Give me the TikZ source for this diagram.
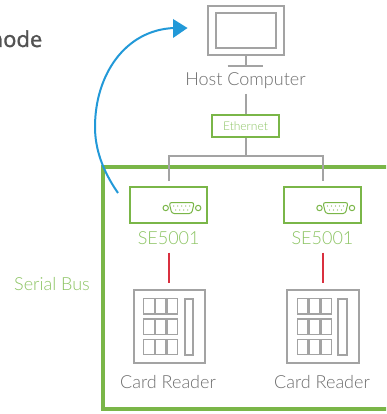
\documentclass[tikz,border=0pt]{standalone}
\usepackage{fontspec}
\setmainfont{Lato Light}
\newfontfamily\headfont{Open Sans}[FakeBold=1.2]
\definecolor{lgreen}{HTML}{7AB648}
\definecolor{tgreen}{HTML}{8CC463}
\definecolor{dgray}{HTML}{A3A3A3}
\definecolor{tgray}{HTML}{6E6E6E}
\definecolor{arcblue}{HTML}{2299D8}
\definecolor{busred}{HTML}{D9303F}
\tikzset{
  greenbox/.style={draw=lgreen,line width=2pt,inner sep=0pt,minimum width=#1},
  readerbox/.style={draw=dgray,line width=2pt,inner sep=0pt,minimum width=71.5pt,minimum height=73pt},
  keybox/.style={draw=dgray,line width=1.3pt,inner sep=0pt,minimum width=10.5pt,minimum height=15.5pt},
  gline/.style={draw=dgray,line width=2pt},
  rline/.style={draw=busred,line width=2pt},
  gtext/.style={text=tgreen,font=\fontsize{18}{20}\selectfont,inner sep=0pt},
  ctext/.style={text=tgray,font=\fontsize{18}{20}\selectfont,inner sep=0pt},
  port/.style={draw=lgreen,line width=1pt},
}
\newcommand{\serialport}[2]{%
  \draw[port] (#1-16,#2) circle (2.7);
  \draw[port] (#1+16.5,#2) circle (2.7);
  \draw[port,rounded corners=2.5pt] (#1-12.5,#2-5.5) -- (#1+12.5,#2-5.5) -- (#1+10,#2+5.5) -- (#1-10,#2+5.5) -- cycle;
  \foreach \dx in {-8,-4,0,4,8} \fill[lgreen] (#1+\dx,#2-2) circle (0.55);
  \foreach \dx in {-6,-2,2,6} \fill[lgreen] (#1+\dx,#2+2) circle (0.55);
}
\newcommand{\readerkeys}[3]{%
  \foreach \r in {0,1,2} \foreach \c in {0,1,2}
    \node[keybox] (#3k\r\c) at (#1-20.3+\c*11.7,#2-20.5+\r*20.4) {};
  \node[draw=dgray,line width=2pt,inner sep=0pt,minimum width=8.5pt,minimum height=56pt] (#3slot) at (#1+19.5,#2) {};
}
\begin{document}
\begin{tikzpicture}[x=1pt,y=-1pt]
\useasboundingbox (0,0) rectangle (386,414);
\clip (0,0) rectangle (386,414);
\fill[white] (0,0) rectangle (386,414);
% title fragment cropped by the left edge
\node[anchor=base east,inner sep=0pt,text=black!68,font=\headfont\fontsize{22}{26}\selectfont] (title) at (42.5,47) {mode};
% serial bus frame, running past the right edge
\node[draw=lgreen,line width=4pt,inner sep=0pt,minimum width=297pt,minimum height=242pt] (frame) at (251.5,288) {};
% host
\node[draw=dgray,line width=2pt,inner sep=0pt,minimum width=76pt,minimum height=49pt] (screen) at (245.5,30.5) {};
\node[draw=dgray,line width=2pt,inner sep=0pt,minimum width=60pt,minimum height=34.5pt] (inner) at (245.5,30.7) {};
\coordinate (base) at (245.5,65.7);
\draw[gline] (screen.south) -- (base);
\draw[gline] (227.7,65.7) -- (263.3,65.7);
\node[ctext] (host) at (245.5,81) {Host Computer};
\node[greenbox=66.5pt,minimum height=22.5pt,text=tgreen,font=\fontsize{12}{14}\selectfont] (eth) at (245.5,126.2) {Ethernet};
\coordinate (hostb) at (245.5,94);
\draw[gline] (hostb) -- (eth.north);
% SE units
\node[greenbox=77.5pt,minimum height=36pt] (se1) at (168.7,204.6) {};
\node[greenbox=77pt,minimum height=36pt] (se2) at (322.5,204.6) {};
\serialport{181.7}{208}
\serialport{335.5}{208}
\coordinate (drop1) at (168.7,181);
\coordinate (drop2) at (322.5,181);
\draw[gline] (eth.south) -- (245.5,155.5);
\draw[gline] (drop1) |- (245.5,155.5) -| (drop2);
\node[gtext] (se1t) at (168.7,238) {SE5001};
\node[gtext] (se2t) at (322.5,238) {SE5001};
% readers
\node[readerbox] (r1) at (169.3,326.7) {};
\node[readerbox] (r2) at (323,326.7) {};
\readerkeys{169.3}{326.7}{a}
\readerkeys{323}{326.7}{b}
\coordinate (red1a) at (169,252.5);
\coordinate (red1b) at (169,283);
\coordinate (red2a) at (323,252.5);
\coordinate (red2b) at (323,283);
\draw[rline] (red1a) -- (red1b);
\draw[rline] (red2a) -- (red2b);
\node[ctext] (c1) at (168,382) {Card Reader};
\node[ctext] (c2) at (322,382) {Card Reader};
\node[gtext] (serial) at (52,284) {Serial Bus};
% blue arrow
\coordinate (arcs) at (118,193);
\coordinate (arce) at (174,28);
\draw[arcblue,line width=2pt] (arcs) .. controls (102,170) and (95,148) .. (95,127) .. controls (95,75) and (125,30) .. (arce);
\fill[arcblue] (173,19) -- (187.5,28) -- (173,38) -- cycle;
\end{tikzpicture}
\end{document}
